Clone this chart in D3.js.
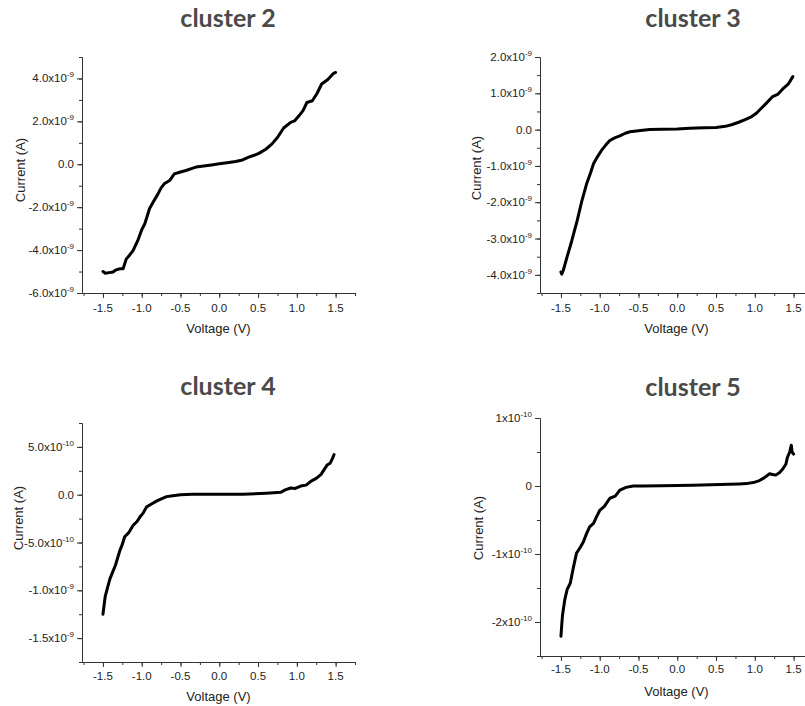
<!DOCTYPE html>
<html><head><meta charset="utf-8">
<script src="https://cdn.jsdelivr.net/npm/d3@7"></script>
<style>body{margin:0;background:#fff}svg{display:block}</style>
</head><body>
<svg id="c" width="805" height="706"></svg>
<script>
// ---- data ----
const titles = ["cluster 2", "cluster 3", "cluster 4", "cluster 5"];
const xTicks = [-1.5, -1.0, -0.5, 0.0, 0.5, 1.0, 1.5];
const xTickLabels = ["-1.5", "-1.0", "-0.5", "0.0", "0.5", "1.0", "1.5"];

const c2V = [-1.50,-1.47,-1.42,-1.37,-1.33,-1.28,-1.24,-1.20,-1.16,-1.11,-1.05,-1.00,-0.96,-0.90,-0.85,-0.79,-0.75,-0.71,-0.64,-0.58,-0.50,-0.43,-0.36,-0.30,-0.20,-0.10,0.00,0.10,0.21,0.30,0.38,0.45,0.51,0.60,0.68,0.75,0.83,0.92,0.97,1.03,1.08,1.13,1.20,1.26,1.32,1.40,1.47,1.50];
const c2I = [-5.00,-5.08,-5.05,-5.02,-4.92,-4.87,-4.87,-4.42,-4.25,-4.01,-3.55,-3.05,-2.77,-2.07,-1.75,-1.38,-1.10,-0.91,-0.76,-0.45,-0.36,-0.29,-0.20,-0.13,-0.08,-0.03,0.02,0.07,0.13,0.20,0.33,0.42,0.51,0.70,0.95,1.25,1.69,1.95,2.02,2.27,2.50,2.88,2.96,3.30,3.74,3.95,4.23,4.28].map(d => d * 1e-9);

const c3V = [-1.50,-1.49,-1.47,-1.42,-1.36,-1.29,-1.23,-1.17,-1.12,-1.08,-1.03,-0.98,-0.92,-0.87,-0.80,-0.74,-0.67,-0.61,-0.50,-0.36,-0.20,0.00,0.16,0.35,0.50,0.62,0.71,0.80,0.89,0.96,1.02,1.08,1.14,1.23,1.30,1.36,1.43,1.49];
const c3I = [-3.92,-3.98,-3.88,-3.50,-3.06,-2.50,-1.96,-1.50,-1.20,-0.94,-0.75,-0.58,-0.42,-0.30,-0.22,-0.17,-0.10,-0.06,-0.03,0.00,0.01,0.02,0.04,0.05,0.06,0.09,0.14,0.21,0.29,0.36,0.45,0.58,0.71,0.91,0.98,1.12,1.25,1.46].map(d => d * 1e-9);

const c4V = [-1.50,-1.47,-1.44,-1.41,-1.37,-1.34,-1.31,-1.28,-1.25,-1.22,-1.17,-1.11,-1.06,-1.02,-0.98,-0.94,-0.88,-0.81,-0.74,-0.68,-0.60,-0.50,-0.35,0.00,0.30,0.60,0.70,0.79,0.85,0.92,0.98,1.05,1.12,1.18,1.25,1.31,1.35,1.39,1.43,1.46,1.48];
const c4I = [-1.25,-1.06,-0.97,-0.88,-0.80,-0.74,-0.66,-0.58,-0.52,-0.44,-0.40,-0.32,-0.28,-0.23,-0.19,-0.13,-0.10,-0.067,-0.04,-0.02,-0.01,0.00,0.005,0.005,0.005,0.015,0.02,0.025,0.05,0.07,0.065,0.09,0.10,0.14,0.17,0.21,0.26,0.31,0.33,0.38,0.42].map(d => d * 1e-9);

const c5V = [-1.50,-1.49,-1.48,-1.45,-1.42,-1.38,-1.34,-1.30,-1.25,-1.21,-1.17,-1.13,-1.08,-1.04,-1.00,-0.94,-0.87,-0.80,-0.74,-0.66,-0.57,-0.45,-0.20,0.20,0.67,0.80,0.89,0.98,1.06,1.12,1.19,1.23,1.27,1.32,1.36,1.40,1.42,1.45,1.47,1.48,1.50];
const c5I = [-2.21,-2.05,-1.90,-1.67,-1.52,-1.43,-1.20,-0.99,-0.90,-0.82,-0.70,-0.60,-0.55,-0.45,-0.36,-0.30,-0.18,-0.15,-0.06,-0.02,0.00,0.00,0.005,0.01,0.025,0.03,0.035,0.05,0.08,0.12,0.18,0.17,0.16,0.20,0.25,0.32,0.42,0.50,0.60,0.50,0.47].map(d => d * 1e-10);

const c2Ticks = [4e-9, 2e-9, 0, -2e-9, -4e-9, -6e-9];
const c2TickMant = ["4.0x10", "2.0x10", "0.0", "-2.0x10", "-4.0x10", "-6.0x10"];
const c2TickExp = ["-9", "-9", "", "-9", "-9", "-9"];
const c3Ticks = [2e-9, 1e-9, 0, -1e-9, -2e-9, -3e-9, -4e-9];
const c3TickMant = ["2.0x10", "1.0x10", "0.0", "-1.0x10", "-2.0x10", "-3.0x10", "-4.0x10"];
const c3TickExp = ["-9", "-9", "", "-9", "-9", "-9", "-9"];
const c4Ticks = [5e-10, 0, -5e-10, -1e-9, -1.5e-9];
const c4TickMant = ["5.0x10", "0.0", "-5.0x10", "-1.0x10", "-1.5x10"];
const c4TickExp = ["-10", "", "-10", "-9", "-9"];
const c5Ticks = [1e-10, 0, -1e-10, -2e-10];
const c5TickMant = ["1x10", "0", "-1x10", "-2x10"];
const c5TickExp = ["-10", "", "-10", "-10"];

// ---- layout ----
const panels = [
  {V:c2V, I:c2I, ticks:c2Ticks, mant:c2TickMant, exp:c2TickExp, yDom:[-6e-9,5e-9], minorStep:1e-9,
   x0:82, x1:355, y0:57, y1:293, tx:228, ty:27, xlabY:312, vlabY:333, clabX:25, clabY:170},
  {V:c3V, I:c3I, ticks:c3Ticks, mant:c3TickMant, exp:c3TickExp, yDom:[-4.5e-9,2e-9], minorStep:0.5e-9,
   x0:540, x1:813, y0:57, y1:293, tx:693, ty:27, xlabY:312, vlabY:333, clabX:481, clabY:168},
  {V:c4V, I:c4I, ticks:c4Ticks, mant:c4TickMant, exp:c4TickExp, yDom:[-1.75e-9,7.5e-10], minorStep:2.5e-10,
   x0:82, x1:355, y0:423, y1:662, tx:228, ty:395, xlabY:680, vlabY:701, clabX:23, clabY:518},
  {V:c5V, I:c5I, ticks:c5Ticks, mant:c5TickMant, exp:c5TickExp, yDom:[-2.5e-10,1e-10], minorStep:0.5e-10,
   x0:540, x1:813, y0:418, y1:656, tx:693, ty:396, xlabY:673, vlabY:696, clabX:483, clabY:528}
];

const svg = d3.select("#c");
const axisColor = "#333";
const font = "'Liberation Sans', Arial, sans-serif";

panels.forEach((p, i) => {
  const g = svg.append("g");
  const x = d3.scaleLinear().domain([-1.77, 1.75]).range([p.x0, p.x1]);
  const y = d3.scaleLinear().domain(p.yDom).range([p.y1, p.y0]);

  // title
  g.append("text").attr("x", p.tx).attr("y", p.ty).attr("text-anchor", "middle")
    .attr("font-family", "Lato, 'Open Sans', sans-serif").attr("font-weight", 700)
    .attr("font-size", 25).attr("fill", "#4a4a4a").text(titles[i]);

  // minor ticks
  const minorX = d3.range(-1.75, 1.76, 0.25);
  g.append("g").attr("transform", `translate(0,${p.y1})`)
    .call(d3.axisBottom(x).tickValues(minorX).tickSize(3).tickSizeOuter(0).tickFormat(""))
    .call(a => a.selectAll("line,path").attr("stroke", axisColor));
  const minorY = d3.range(p.yDom[0], p.yDom[1] + p.minorStep/2, p.minorStep);
  g.append("g").attr("transform", `translate(${p.x0},0)`)
    .call(d3.axisLeft(y).tickValues(minorY).tickSize(3).tickSizeOuter(0).tickFormat(""))
    .call(a => a.selectAll("line,path").attr("stroke", axisColor));

  // major ticks
  g.append("g").attr("transform", `translate(0,${p.y1})`)
    .call(d3.axisBottom(x).tickValues(xTicks).tickSize(5).tickSizeOuter(0).tickFormat(""))
    .call(a => a.selectAll("line,path").attr("stroke", axisColor));
  g.append("g").attr("transform", `translate(${p.x0},0)`)
    .call(d3.axisLeft(y).tickValues(p.ticks).tickSize(5).tickSizeOuter(0).tickFormat(""))
    .call(a => a.selectAll("line,path").attr("stroke", axisColor));

  // x tick labels
  g.selectAll(".xl").data(xTicks).join("text")
    .attr("x", d => x(d)).attr("y", p.xlabY).attr("text-anchor", "middle")
    .attr("font-family", font).attr("font-size", 11.5).attr("fill", "#222")
    .text((d, k) => xTickLabels[k]);

  // y tick labels
  p.ticks.forEach((t, k) => {
    const tx = g.append("text").attr("x", p.x0 - 8).attr("y", y(t) + 4)
      .attr("text-anchor", "end").attr("font-family", font).attr("font-size", 11.5).attr("fill", "#222");
    tx.append("tspan").text(p.mant[k]);
    if (p.exp[k]) tx.append("tspan").attr("font-size", 8).attr("dy", -5).text(p.exp[k]);
  });

  // axis titles
  g.append("text").attr("x", (p.x0 + 355 - 82 + p.x0) / 2).attr("y", p.vlabY).attr("text-anchor", "middle")
    .attr("font-family", font).attr("font-size", 13).attr("fill", "#222").text("Voltage (V)");
  g.append("text").attr("transform", `translate(${p.clabX},${p.clabY}) rotate(-90)`)
    .attr("text-anchor", "middle").attr("font-family", font).attr("font-size", 13).attr("fill", "#222")
    .text("Current (A)");

  // curve
  const pts = p.V.map((v, k) => [v, p.I[k]]);
  g.append("path").datum(pts)
    .attr("d", d3.line().x(d => x(d[0])).y(d => y(d[1])))
    .attr("fill", "none").attr("stroke", "#000").attr("stroke-width", 3)
    .attr("stroke-linejoin", "round").attr("stroke-linecap", "round");
});
</script>
</body></html>
